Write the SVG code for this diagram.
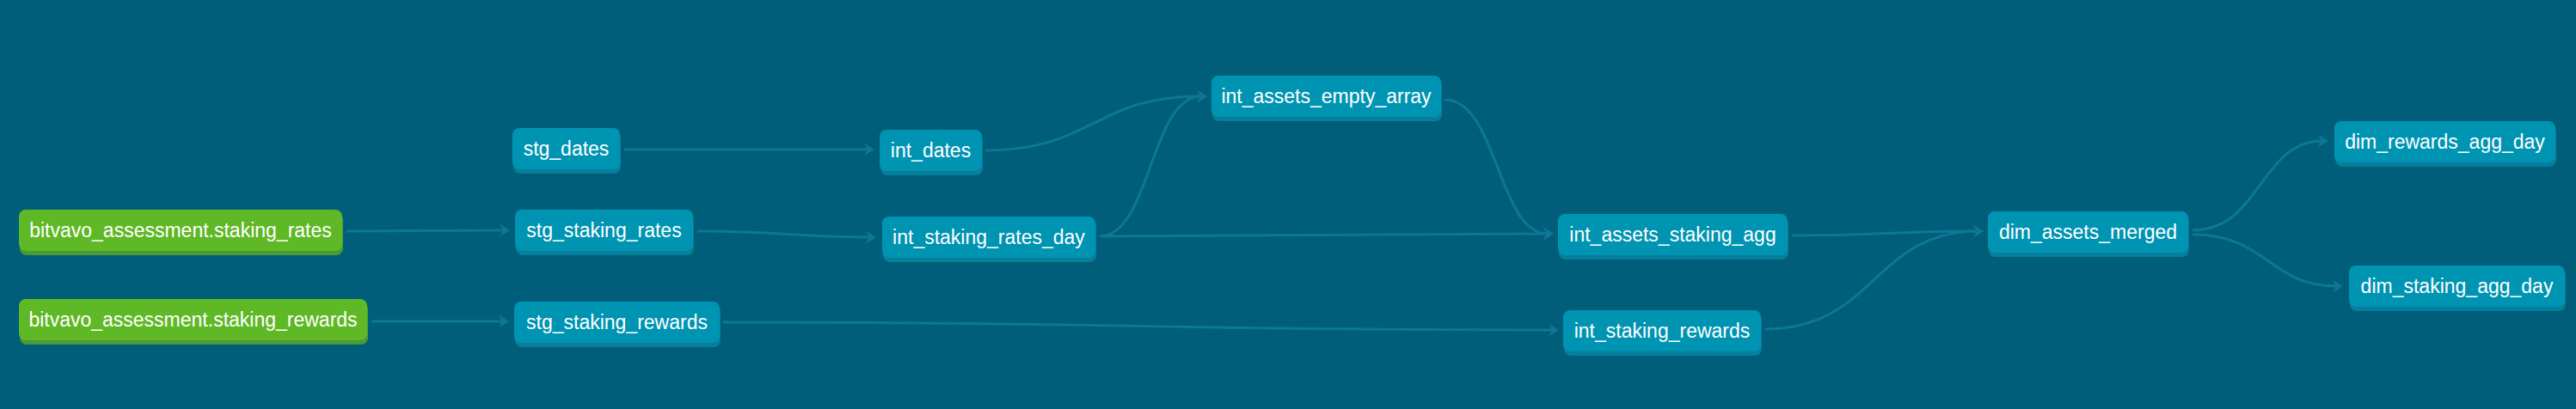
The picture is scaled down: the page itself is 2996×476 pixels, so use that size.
<svg xmlns="http://www.w3.org/2000/svg" width="2996" height="476" viewBox="0 0 2996 476">
<style>
.bg{fill:#005e7a}
.edge{fill:none;stroke:#0c7895;stroke-width:3}
.model .face{fill:#0094b3}
.model .shadow{fill:#077f9c}
.source .face{fill:#5fb825}
.source .shadow{fill:#4b9a34}
text{font-family:"Liberation Sans",Arial,sans-serif;font-size:23px;fill:#ffffff;text-anchor:middle}
</style>
<defs>
<marker id="arr" markerUnits="userSpaceOnUse" markerWidth="16" markerHeight="18" viewBox="-13 -9 16 18" refX="-7" refY="0" orient="auto">
<path d="M0,0 L-12,-7.5 L-8,0 L-12,7.5 Z" fill="#0c7895"/>
</marker>
</defs>
<rect class="bg" x="0" y="0" width="2996" height="476"/>
<g id="connectors">
<path class="edge" marker-end="url(#arr)" d="M403,269 C498,269 498,268 586,268"/>
<path class="edge" marker-end="url(#arr)" d="M432,374 C512,374 512,374 585,374"/>
<path class="edge" marker-end="url(#arr)" d="M726,174 C870,174 870,174 1010,174"/>
<path class="edge" marker-end="url(#arr)" d="M811,269 C915,269 915,276 1012,276"/>
<path class="edge" marker-end="url(#arr)" d="M1146,175 C1272,175 1272,112 1397,112"/>
<path class="edge" marker-end="url(#arr)" d="M1279,275 C1338,275 1338,112 1397,112"/>
<path class="edge" marker-end="url(#arr)" d="M1279,275 C1540,275 1540,272 1800,272"/>
<path class="edge" marker-end="url(#arr)" d="M1680,116 C1742,116 1742,272 1800,272"/>
<path class="edge" marker-end="url(#arr)" d="M841,375 C1325,375 1325,384 1806,384"/>
<path class="edge" marker-end="url(#arr)" d="M2084,274 C2195,274 2195,269 2300,269"/>
<path class="edge" marker-end="url(#arr)" d="M2053,383 C2180,383 2180,269 2300,269"/>
<path class="edge" marker-end="url(#arr)" d="M2550,268 C2629,268 2629,164 2701,164"/>
<path class="edge" marker-end="url(#arr)" d="M2550,273 C2638,273 2638,333 2718,333"/>
</g>
<g id="src_staking_rates" class="source">
<rect class="shadow" x="23" y="248" width="376" height="49" rx="8"/>
<rect class="face" x="22" y="244" width="376" height="48" rx="8"/>
<text x="210" y="276">bitvavo_assessment.staking_rates</text>
</g>
<g id="src_staking_rewards" class="source">
<rect class="shadow" x="23" y="352" width="405" height="49" rx="8"/>
<rect class="face" x="22" y="348" width="405" height="48" rx="8"/>
<text x="224.5" y="380">bitvavo_assessment.staking_rewards</text>
</g>
<g id="stg_dates" class="model">
<rect class="shadow" x="597" y="153" width="125" height="49" rx="8"/>
<rect class="face" x="596" y="149" width="125" height="48" rx="8"/>
<text x="658.5" y="181">stg_dates</text>
</g>
<g id="stg_staking_rates" class="model">
<rect class="shadow" x="600" y="248" width="207" height="49" rx="8"/>
<rect class="face" x="599" y="244" width="207" height="48" rx="8"/>
<text x="702.5" y="276">stg_staking_rates</text>
</g>
<g id="stg_staking_rewards" class="model">
<rect class="shadow" x="599" y="355" width="239" height="49" rx="8"/>
<rect class="face" x="598" y="351" width="239" height="48" rx="8"/>
<text x="717.5" y="383">stg_staking_rewards</text>
</g>
<g id="int_dates" class="model">
<rect class="shadow" x="1024" y="155" width="119" height="49" rx="8"/>
<rect class="face" x="1023" y="151" width="119" height="48" rx="8"/>
<text x="1082.5" y="183">int_dates</text>
</g>
<g id="int_staking_rates_day" class="model">
<rect class="shadow" x="1027" y="256" width="248" height="49" rx="8"/>
<rect class="face" x="1026" y="252" width="248" height="48" rx="8"/>
<text x="1150" y="284">int_staking_rates_day</text>
</g>
<g id="int_assets_empty_array" class="model">
<rect class="shadow" x="1410" y="92" width="267" height="49" rx="8"/>
<rect class="face" x="1409" y="88" width="267" height="48" rx="8"/>
<text x="1542.5" y="120">int_assets_empty_array</text>
</g>
<g id="int_assets_staking_agg" class="model">
<rect class="shadow" x="1813" y="253" width="267" height="49" rx="8"/>
<rect class="face" x="1812" y="249" width="267" height="48" rx="8"/>
<text x="1945.5" y="281">int_assets_staking_agg</text>
</g>
<g id="int_staking_rewards" class="model">
<rect class="shadow" x="1819" y="365" width="230" height="49" rx="8"/>
<rect class="face" x="1818" y="361" width="230" height="48" rx="8"/>
<text x="1933" y="393">int_staking_rewards</text>
</g>
<g id="dim_assets_merged" class="model">
<rect class="shadow" x="2313" y="250" width="233" height="49" rx="8"/>
<rect class="face" x="2312" y="246" width="233" height="48" rx="8"/>
<text x="2428.5" y="278">dim_assets_merged</text>
</g>
<g id="dim_rewards_agg_day" class="model">
<rect class="shadow" x="2716" y="145" width="257" height="49" rx="8"/>
<rect class="face" x="2715" y="141" width="257" height="48" rx="8"/>
<text x="2843.5" y="173">dim_rewards_agg_day</text>
</g>
<g id="dim_staking_agg_day" class="model">
<rect class="shadow" x="2733" y="313" width="251" height="49" rx="8"/>
<rect class="face" x="2732" y="309" width="251" height="48" rx="8"/>
<text x="2857.5" y="341">dim_staking_agg_day</text>
</g>
</svg>
